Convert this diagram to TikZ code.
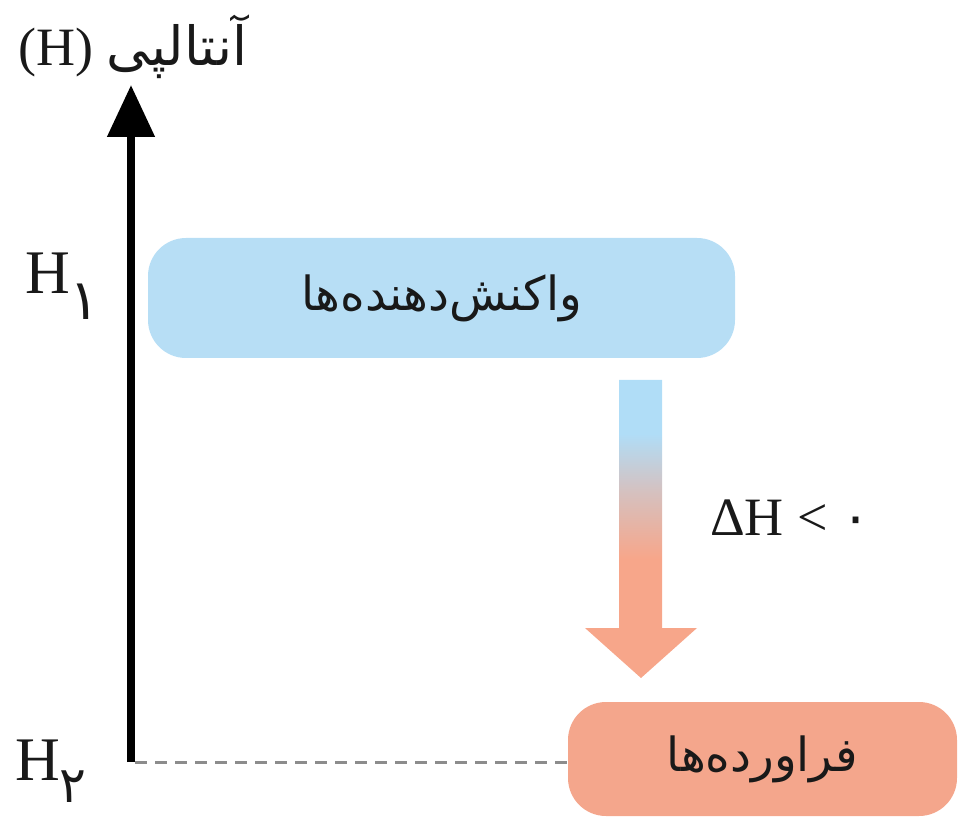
\documentclass[tikz,border=0pt]{standalone}
\usepackage{fontspec}
\setmainfont{Liberation Serif}
\newfontfamily\fa[Script=Arabic]{DejaVu Sans}
\TeXXeTstate=1
\usetikzlibrary{arrows.meta}
\definecolor{boxblue}{RGB}{183,222,245}
\definecolor{boxsalmon}{RGB}{244,166,140}
\definecolor{arrblue}{RGB}{176,221,247}
\definecolor{arrmid}{RGB}{214,192,190}
\definecolor{arrsalm}{RGB}{247,166,138}
\definecolor{txtdark}{RGB}{25,25,25}
\definecolor{dashgray}{RGB}{140,140,140}
\pgfdeclareverticalshading{dhshade}{100bp}{color(0bp)=(arrsalm); color(45bp)=(arrsalm); color(56bp)=(arrmid); color(66bp)=(arrblue); color(100bp)=(arrblue)}
\tikzset{
  levelbox/.style={rounded corners=38pt, inner sep=0pt, text=txtdark, font=\fontsize{47}{47}\fa},
  lbl/.style={inner sep=0pt, text=txtdark, font=\fontsize{54}{54}\selectfont},
}
\begin{document}
\begin{tikzpicture}[x=1pt,y=-1pt]
\useasboundingbox (0,0) rectangle (962,818);
% boxes
\node[levelbox, fill=boxblue, minimum width=587pt, minimum height=120pt] (react) at (441.5,298) {\beginR واکنش‌دهنده‌ها\endR};
\node[levelbox, fill=boxsalmon, minimum width=389pt, minimum height=114pt] (prod) at (762.5,759) {\beginR فراورده‌ها\endR};
% axis
\coordinate (h2) at (131,762);
\coordinate (axtop) at (131,85);
\draw[line width=8pt, -{Triangle[length=52pt,width=46pt]}] (h2) -- (axtop);
\draw[dashgray, line width=3pt, dash pattern=on 12pt off 8pt] (135,762) -- (h2 -| prod.west);
% gradient arrow
\shade[shading=dhshade] (619,380) -- (662,380) -- (662,628) -- (697,628) -- (641,678) -- (585,628) -- (619,628) -- cycle;
% labels
\node[lbl, anchor=base west] (title) at (18,66) {(H) {\fa\beginR آنتالپی\endR}};
\node[lbl, anchor=base west, font=\fontsize{62}{62}\selectfont] (h1lab) at (25,294) {H\raisebox{-26pt}{\fontsize{56}{56}\fa ۱}};
\node[lbl, anchor=base west, font=\fontsize{62}{62}\selectfont] (h2lab) at (15,780) {H\raisebox{-22pt}{\fontsize{50}{50}\fa ۲}};
\node[lbl, anchor=base west] (dh) at (710,535) {ΔH < {\fa ۰}};
\end{tikzpicture}
\end{document}
